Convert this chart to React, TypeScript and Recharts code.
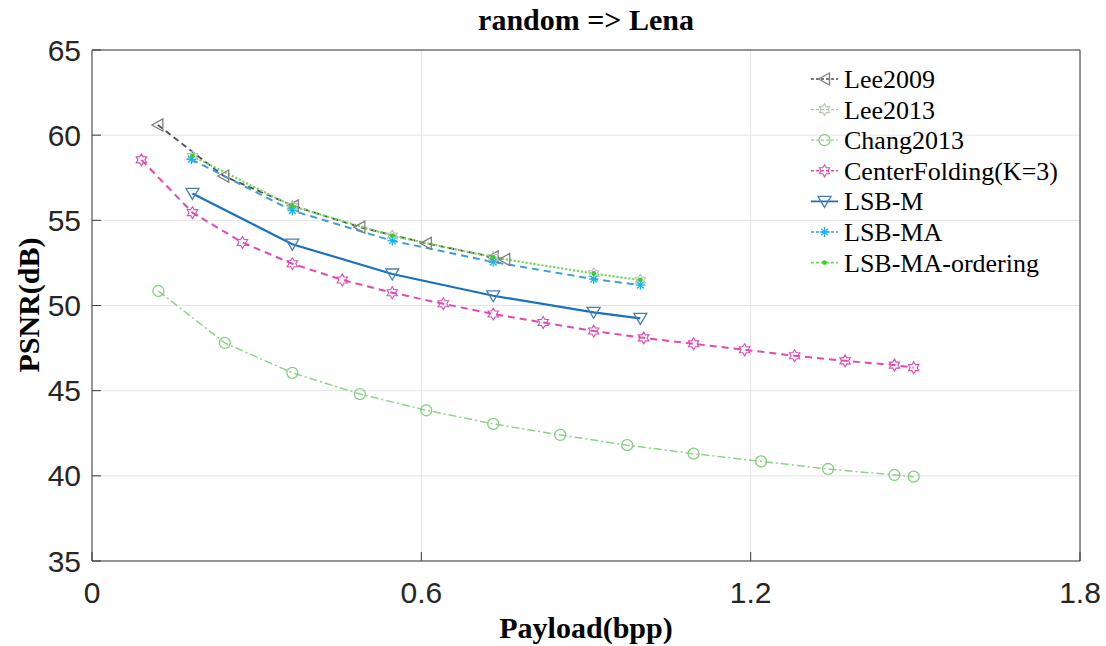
import React from 'react';
import { LineChart, Line, XAxis, YAxis, CartesianGrid } from 'recharts';

// ---- data ----
const xTicks = [0, 0.6, 1.2, 1.8];
const yTicks = [35, 40, 45, 50, 55, 60, 65];

const lee2009X = [0.12, 0.24, 0.367, 0.488, 0.609, 0.731, 0.752];
const lee2009Y = [60.6, 57.6, 55.85, 54.6, 53.65, 52.85, 52.7];

const lee2013X = [0.183, 0.365, 0.547, 0.731, 0.914, 0.999];
const lee2013Y = [58.75, 55.82, 54.08, 52.82, 51.86, 51.48];

const chang2013X = [0.121, 0.242, 0.365, 0.488, 0.609, 0.731, 0.853, 0.975, 1.096, 1.219, 1.341, 1.462, 1.497];
const chang2013Y = [50.85, 47.8, 46.05, 44.8, 43.85, 43.05, 42.4, 41.8, 41.3, 40.85, 40.4, 40.05, 39.95];

const centerX = [0.09, 0.183, 0.274, 0.365, 0.456, 0.547, 0.64, 0.731, 0.822, 0.914, 1.005, 1.096, 1.189, 1.28, 1.372, 1.462, 1.497];
const centerY = [58.55, 55.45, 53.7, 52.45, 51.5, 50.75, 50.1, 49.5, 49.0, 48.5, 48.1, 47.75, 47.4, 47.05, 46.75, 46.5, 46.35];

const lsbMX = [0.183, 0.365, 0.547, 0.731, 0.914, 0.999];
const lsbMY = [56.58, 53.6, 51.85, 50.57, 49.6, 49.24];

const lsbMAX = [0.181, 0.365, 0.547, 0.731, 0.914, 0.999];
const lsbMAY = [58.58, 55.57, 53.8, 52.55, 51.55, 51.2];

const lsbMAOX = [0.183, 0.365, 0.547, 0.731, 0.914, 0.999];
const lsbMAOY = [58.78, 55.84, 54.1, 52.83, 51.88, 51.5];

type MarkerKind = 'left' | 'circle' | 'hex' | 'down' | 'aster' | 'dot';

const series: {
  name: string; xs: number[]; ys: number[]; color: string; markerColor: string;
  dash?: string; width: number; marker: MarkerKind;
}[] = [
  { name: 'Lee2009', xs: lee2009X, ys: lee2009Y, color: '#4d4d4d', markerColor: '#7f7f7f', dash: '6 4', width: 1.8, marker: 'left' },
  { name: 'Lee2013', xs: lee2013X, ys: lee2013Y, color: '#b4c0b4', markerColor: '#b8c6b8', dash: '2 2', width: 1.4, marker: 'hex' },
  { name: 'Chang2013', xs: chang2013X, ys: chang2013Y, color: '#8ed388', markerColor: '#86cf80', dash: '8 3 2 3', width: 1.5, marker: 'circle' },
  { name: 'CenterFolding(K=3)', xs: centerX, ys: centerY, color: '#e04ab4', markerColor: '#d94fb5', dash: '7 5', width: 2, marker: 'hex' },
  { name: 'LSB-M', xs: lsbMX, ys: lsbMY, color: '#1a72bd', markerColor: '#4a7fb5', width: 2.2, marker: 'down' },
  { name: 'LSB-MA', xs: lsbMAX, ys: lsbMAY, color: '#3a9fdc', markerColor: '#18b4f0', dash: '7 5', width: 2, marker: 'aster' },
  { name: 'LSB-MA-ordering', xs: lsbMAOX, ys: lsbMAOY, color: '#72dc50', markerColor: '#3ccc2a', dash: '2 2', width: 2, marker: 'dot' },
];

function hexPts(cx: number, cy: number, r: number) {
  const pts: string[] = [];
  for (let i = 0; i < 12; i++) {
    const a = -Math.PI / 2 + (i * Math.PI) / 6;
    const rr = i % 2 === 0 ? r : r * 0.577;
    pts.push(`${(cx + rr * Math.cos(a)).toFixed(2)},${(cy + rr * Math.sin(a)).toFixed(2)}`);
  }
  return pts.join(' ');
}

function Marker({ kind, cx, cy, color }: { kind: MarkerKind; cx: number; cy: number; color: string }) {
  if (cx == null || cy == null) return <g />;
  const sw = 1.3;
  switch (kind) {
    case 'left':
      return <polygon points={`${cx - 6},${cy} ${cx + 5},${cy - 6} ${cx + 5},${cy + 6}`} fill="none" stroke={color} strokeWidth={sw} />;
    case 'down':
      return <polygon points={`${cx - 6.5},${cy - 5} ${cx + 6.5},${cy - 5} ${cx},${cy + 6}`} fill="none" stroke={color} strokeWidth={sw} />;
    case 'circle':
      return <circle cx={cx} cy={cy} r={5.5} fill="none" stroke={color} strokeWidth={sw} />;
    case 'hex':
      return <polygon points={hexPts(cx, cy, 6)} fill="none" stroke={color} strokeWidth={1.1} />;
    case 'aster': {
      const r = 4.8;
      return (
        <g stroke={color} strokeWidth={1.3}>
          <line x1={cx - r} y1={cy} x2={cx + r} y2={cy} />
          <line x1={cx} y1={cy - r} x2={cx} y2={cy + r} />
          <line x1={cx - r * 0.7} y1={cy - r * 0.7} x2={cx + r * 0.7} y2={cy + r * 0.7} />
          <line x1={cx - r * 0.7} y1={cy + r * 0.7} x2={cx + r * 0.7} y2={cy - r * 0.7} />
        </g>
      );
    }
    case 'dot':
    default:
      return <circle cx={cx} cy={cy} r={2.4} fill={color} stroke="none" />;
  }
}

const axisColor = '#3a3a3a';
const tickFont = { fontFamily: '"Liberation Sans", Arial, sans-serif', fontSize: 30, fill: '#262626' };
const serif = '"Liberation Serif", "Times New Roman", serif';

export default function App() {
  const legendTop = 79;
  const legendStep = 30.6;
  return (
    <div style={{ position: 'absolute', left: 0, top: 0, width: 1106, height: 646, background: '#fff' }}>
      <LineChart width={1106} height={646} margin={{ top: 20, right: 0, left: 0, bottom: 0 }}>
        <CartesianGrid stroke="#e4e4e4" strokeWidth={1} />
        <XAxis
          type="number" dataKey="x" domain={[0, 1.8]} ticks={xTicks} height={85}
          stroke={axisColor} tickSize={-9} tickMargin={30}
          tickFormatter={(v: number) => String(v)} tick={tickFont} allowDataOverflow
        />
        <XAxis
          xAxisId="top" orientation="top" type="number" domain={[0, 1.8]} ticks={xTicks} height={30}
          stroke={axisColor} tickSize={-9} tick={() => <g />}
        />
        <YAxis
          type="number" domain={[35, 65]} ticks={yTicks} width={92}
          stroke={axisColor} tickSize={-9} tickMargin={20} tick={tickFont} allowDataOverflow
        />
        <YAxis
          yAxisId="right" orientation="right" type="number" domain={[35, 65]} ticks={yTicks} width={26}
          stroke={axisColor} tickSize={-9} tick={() => <g />}
        />
        {series.map((s) => (
          <Line
            key={s.name}
            data={s.xs.map((x, i) => ({ x, y: s.ys[i] }))}
            dataKey="y"
            type="linear"
            stroke={s.color}
            strokeWidth={s.width}
            strokeDasharray={s.dash}
            isAnimationActive={false}
            legendType="none"
            activeDot={false}
            dot={(p: any) => (
              <Marker key={`${s.name}-${p.index}`} kind={s.marker} cx={p.cx} cy={p.cy} color={s.markerColor} />
            )}
          />
        ))}
      </LineChart>
      <svg width={1106} height={646} style={{ position: 'absolute', left: 0, top: 0, pointerEvents: 'none' }}>
        <text x={586} y={30} textAnchor="middle" fontFamily={serif} fontWeight="bold" fontSize={30} fill="#000">
          random =&gt; Lena
        </text>
        <text x={586} y={638} textAnchor="middle" fontFamily={serif} fontWeight="bold" fontSize={30} fill="#000">
          Payload(bpp)
        </text>
        <text
          x={0} y={0} transform="translate(39,305) rotate(-90)" textAnchor="middle"
          fontFamily={serif} fontWeight="bold" fontSize={30} fill="#000"
        >
          PSNR(dB)
        </text>
        {series.map((s, i) => {
          const y = legendTop + i * legendStep;
          return (
            <g key={s.name}>
              <line x1={811} y1={y} x2={838} y2={y} stroke={s.color} strokeWidth={s.width * 0.8} strokeDasharray={s.dash ? '3 2' : undefined} />
              <Marker kind={s.marker} cx={824.5} cy={y} color={s.markerColor} />
              <text x={844} y={y + 9} fontFamily={serif} fontSize={26} fill="#000">{s.name}</text>
            </g>
          );
        })}
      </svg>
    </div>
  );
}
